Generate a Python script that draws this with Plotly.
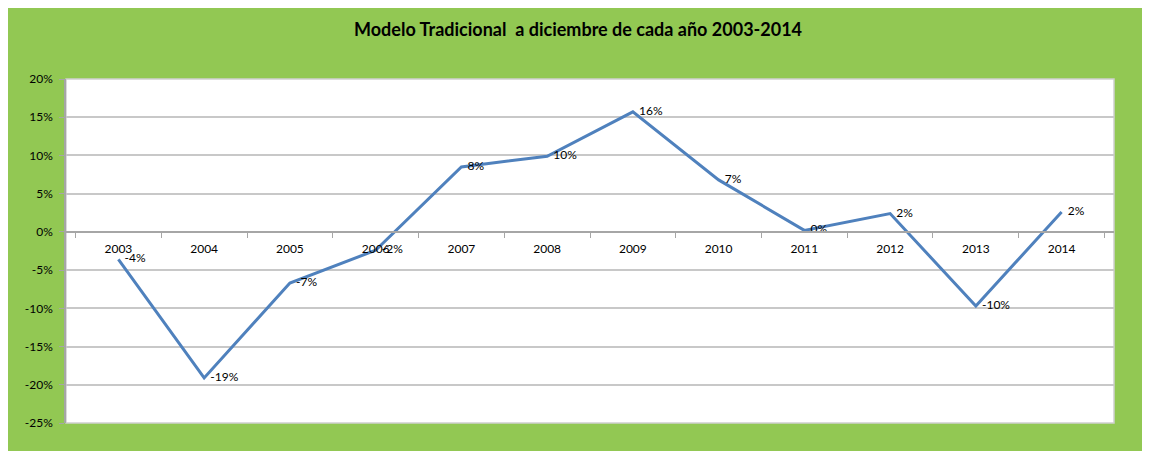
import plotly.graph_objects as go

years = ["2003", "2004", "2005", "2006", "2007", "2008", "2009", "2010", "2011", "2012", "2013", "2014"]
values = [-0.036, -0.191, -0.067, -0.024, 0.085, 0.099, 0.157, 0.068, 0.002, 0.024, -0.097, 0.026]
y_ticks = [0.20, 0.15, 0.10, 0.05, 0.0, -0.05, -0.10, -0.15, -0.20, -0.25]
y_tick_labels = ["20%", "15%", "10%", "5%", "0%", "-5%", "-10%", "-15%", "-20%", "-25%"]
point_labels = ["-4%", "-19%", "-7%", "-2%", "8%", "10%", "16%", "7%", "0%", "2%", "-10%", "2%"]

y_min, y_max = -0.25, 0.20
green = "#92C853"
font = "Lato"

fig = go.Figure()
fig.add_trace(go.Scatter(
    x=years, y=values, mode="lines+text",
    line=dict(color="#4F81BD", width=3),
    text=point_labels, texttemplate="  %{text}", textposition="middle right",
    textfont=dict(family=font, size=12, color="#000000"),
    cliponaxis=False, showlegend=False,
))

fig.update_layout(
    width=1150, height=451,
    paper_bgcolor=green, plot_bgcolor="#FFFFFF",
    margin=dict(l=58, r=44, t=71, b=36),
    title=dict(text="<b>Modelo Tradicional  a diciembre de cada año 2003-2014</b>",
               xref="container", x=0.4957, xanchor="center",
               yref="container", y=1 - 22 / 451, yanchor="middle",
               font=dict(family=font, size=18, color="#000000")),
    font=dict(family=font, size=12, color="#000000"),
    xaxis=dict(
        type="category", anchor="free", position=(0 - y_min) / (y_max - y_min),
        showline=True, linecolor="#A6A6A6", linewidth=1.5,
        tickson="boundaries", ticks="outside", ticklen=5, tickcolor="#A6A6A6",
        ticklabelstandoff=6,
        showgrid=False, zeroline=False,
        tickfont=dict(family=font, size=12, color="#000000"),
    ),
    yaxis=dict(
        range=[y_min, y_max], tickvals=y_ticks, ticktext=y_tick_labels,
        showgrid=True, gridcolor="#C8C8C8", gridwidth=2,
        zeroline=False,
        showline=True, linecolor="#A6A6A6", linewidth=1.5,
        ticks="outside", ticklen=5, tickcolor="#A6A6A6",
        ticklabelstandoff=4,
        tickfont=dict(family=font, size=12, color="#000000"),
    ),
)

fig.add_shape(type="rect", xref="paper", yref="paper", x0=0, x1=1, y0=0, y1=1,
              line=dict(color="#D0D0D0", width=1.5), layer="below")

fig.write_html("out.html")
